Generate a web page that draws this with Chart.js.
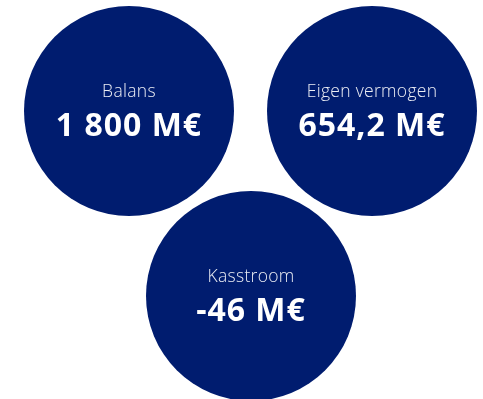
<!DOCTYPE html>
<html>
<head>
<meta charset="utf-8">
<script src="https://cdn.jsdelivr.net/npm/chart.js@4.4.1/dist/chart.umd.min.js"></script>
<style>
  html, body { margin: 0; padding: 0; background: #fff; }
  #wrap { width: 483px; height: 399px; }
</style>
</head>
<body>
<div id="wrap"><canvas id="kpiChart" width="483" height="399"></canvas></div>
<script>
// KPI data
const labels = ['Balans', 'Eigen vermogen', 'Kasstroom'];
const values = [1800, 654.2, -46];
const valueTexts = ['1 800 M€', '654,2 M€', '-46 M€'];

// layout of the circles (pixel space of the hidden scales)
const centersX = [129, 372, 251];
const centersY = [111, 111, 296];
const radius = 105;

const navy = '#001c6f';
const fontFamily = '"Open Sans", "Noto Sans", sans-serif';

const kpiText = {
  id: 'kpiText',
  afterDatasetsDraw(chart) {
    const ctx = chart.ctx;
    const meta = chart.getDatasetMeta(0);
    ctx.save();
    ctx.textAlign = 'center';
    ctx.textBaseline = 'middle';
    meta.data.forEach(function (pt, i) {
      ctx.letterSpacing = '0.3px';
      ctx.font = '300 17.5px ' + fontFamily;
      ctx.fillStyle = 'rgba(255,255,255,0.92)';
      ctx.fillText(labels[i], pt.x, pt.y - 19);
      ctx.letterSpacing = '1px';
      ctx.font = 'bold 32px ' + fontFamily;
      ctx.fillStyle = '#ffffff';
      ctx.fillText(valueTexts[i], pt.x, pt.y + 16);
    });
    ctx.restore();
  }
};

new Chart(document.getElementById('kpiChart'), {
  type: 'bubble',
  data: {
    labels: labels,
    datasets: [{
      label: 'KPI',
      data: values.map(function (v, i) {
        return { x: centersX[i], y: centersY[i], r: radius, v: v };
      }),
      backgroundColor: navy,
      borderWidth: 0,
      hoverRadius: 0,
      hoverBorderWidth: 0,
      clip: false
    }]
  },
  options: {
    responsive: false,
    animation: false,
    events: [],
    layout: { padding: 0, autoPadding: false },
    scales: {
      x: { type: 'linear', min: 0, max: 483, display: false },
      y: { type: 'linear', min: 0, max: 399, reverse: true, display: false }
    },
    plugins: {
      legend: { display: false },
      tooltip: { enabled: false }
    }
  },
  plugins: [kpiText]
});
</script>
</body>
</html>
